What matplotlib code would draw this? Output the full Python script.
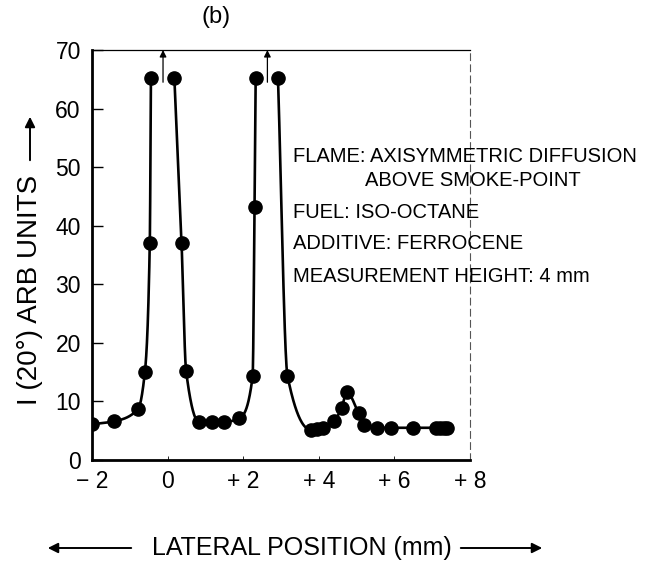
import numpy as np
import matplotlib
matplotlib.use("Agg")
import matplotlib.pyplot as plt

# ---- data ----
# three drawn branches of the curve (the peaks go off scale, marked by arrows)
seg1_x = [-2.0, -1.42, -0.78, -0.60, -0.47, -0.44]
seg1_y = [6.1, 6.6, 8.7, 15.0, 37.0, 65.2]
seg2_x = [0.18, 0.37, 0.49, 0.83, 1.17, 1.50, 1.89, 2.25, 2.30, 2.33]
seg2_y = [65.2, 37.0, 15.2, 6.5, 6.5, 6.5, 7.1, 14.3, 43.2, 65.2]
seg3_x = [2.92, 3.17, 3.78, 3.95, 4.11, 4.39, 4.60, 4.74, 5.05, 5.20, 5.55,
          5.90, 6.50, 7.10, 7.20, 7.30, 7.40]
seg3_y = [65.2, 14.4, 5.2, 5.3, 5.4, 6.6, 8.8, 11.6, 8.0, 6.0, 5.5,
          5.5, 5.5, 5.5, 5.5, 5.5, 5.5]
offscale_x = [-0.12, 2.64]

xticks = [-2, 0, 2, 4, 6, 8]
xticklabels = ["\u2212 2", "0", "+ 2", "+ 4", "+ 6", "+ 8"]
yticks = [0, 10, 20, 30, 40, 50, 60, 70]

notes = ["FLAME: AXISYMMETRIC DIFFUSION", "ABOVE SMOKE-POINT", "FUEL: ISO-OCTANE",
         "ADDITIVE: FERROCENE", "MEASUREMENT HEIGHT: 4 mm"]


def pchip(x, y, xn):
    x = np.asarray(x, float); y = np.asarray(y, float)
    h = np.diff(x); d = np.diff(y) / h
    n = len(x)
    m = np.zeros(n)
    for k in range(1, n - 1):
        if d[k - 1] * d[k] <= 0:
            m[k] = 0.0
        else:
            w1 = 2 * h[k] + h[k - 1]
            w2 = h[k] + 2 * h[k - 1]
            m[k] = (w1 + w2) / (w1 / d[k - 1] + w2 / d[k])
    m[0] = d[0]; m[-1] = d[-1]
    idx = np.clip(np.searchsorted(x, xn) - 1, 0, n - 2)
    t = (xn - x[idx]) / h[idx]
    h00 = 2 * t**3 - 3 * t**2 + 1
    h10 = t**3 - 2 * t**2 + t
    h01 = -2 * t**3 + 3 * t**2
    h11 = t**3 - t**2
    return h00 * y[idx] + h10 * h[idx] * m[idx] + h01 * y[idx + 1] + h11 * h[idx] * m[idx + 1]


plt.rcParams['font.family'] = ['Liberation Sans', 'DejaVu Sans']

fig = plt.figure(figsize=(6.52, 5.62), dpi=100)
ax = fig.add_axes([0.141, 0.1815, 0.580, 0.7295])

for sx, sy in [(seg1_x, seg1_y), (seg2_x, seg2_y), (seg3_x, seg3_y)]:
    xn = np.linspace(sx[0], sx[-1], 400)
    ax.plot(xn, pchip(sx, sy, xn), color='black', lw=1.9, solid_capstyle='round')
    ax.plot(sx, sy, 'o', color='black', ms=9.5)

for xo in offscale_x:
    ax.annotate("", xy=(xo, 70), xytext=(xo, 64.5),
                arrowprops=dict(arrowstyle='-|>', color='black', lw=0.9,
                                mutation_scale=10, shrinkA=0, shrinkB=0))

ax.set_xlim(-2, 8)
ax.set_ylim(0, 70)
ax.set_xticks(xticks)
ax.set_xticklabels(xticklabels, fontsize=16.5)
ax.set_yticks(yticks)
ax.set_yticklabels([str(v) for v in yticks], fontsize=16.5)
ax.tick_params(axis='y', direction='in', length=8, width=1, pad=8)
ax.tick_params(axis='x', direction='in', length=3, width=0.6, pad=7)

ax.spines['left'].set_linewidth(2.0)
ax.spines['bottom'].set_linewidth(2.0)
ax.spines['top'].set_linewidth(0.9)
ax.spines['right'].set_linewidth(0.8)
ax.spines['right'].set_linestyle((0, (6, 4)))
ax.spines['right'].set_color('#555555')

# notes
fs = 14.5
xs = 293 / 652
fig.text(xs, 1 - 156 / 562, notes[0], fontsize=fs, va='center', ha='left')
fig.text(365 / 652, 1 - 180 / 562, notes[1], fontsize=fs, va='center', ha='left')
fig.text(xs, 1 - 212 / 562, notes[2], fontsize=fs, va='center', ha='left')
fig.text(xs, 1 - 244 / 562, notes[3], fontsize=fs, va='center', ha='left')
fig.text(xs, 1 - 277 / 562, notes[4], fontsize=fs, va='center', ha='left')

# title
fig.text(216 / 652, 1 - 17 / 562, "(b)", fontsize=17, ha='center', va='center')

# y label with arrow
fig.text(30 / 652, 1 - 290 / 562, "I (20°) ARB UNITS", rotation=90, fontsize=20,
         ha='center', va='center')
fig.patches.append(matplotlib.patches.FancyArrowPatch(
    (30 / 652, 1 - 163 / 562), (30 / 652, 1 - 114 / 562), transform=fig.transFigure,
    arrowstyle='-|>', mutation_scale=15, color='black', lw=1.4))

# x label with arrows
fig.text(302 / 652, 1 - 548 / 562, "LATERAL POSITION (mm)", fontsize=18,
         ha='center', va='center')
fig.patches.append(matplotlib.patches.FancyArrowPatch(
    (134 / 652, 1 - 548 / 562), (45 / 652, 1 - 548 / 562), transform=fig.transFigure,
    arrowstyle='-|>', mutation_scale=15, color='black', lw=1.4))
fig.patches.append(matplotlib.patches.FancyArrowPatch(
    (458 / 652, 1 - 548 / 562), (545 / 652, 1 - 548 / 562), transform=fig.transFigure,
    arrowstyle='-|>', mutation_scale=15, color='black', lw=1.4))

fig.savefig("out.png", dpi=100)
